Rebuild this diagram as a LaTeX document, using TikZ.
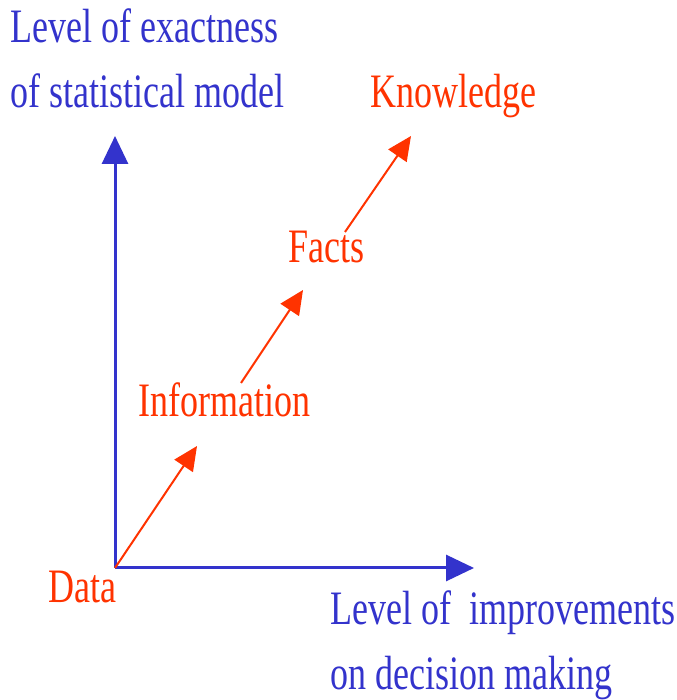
\documentclass[tikz,border=0pt]{standalone}
\usepackage{fontspec}
\setmainfont{Liberation Serif}
\usepackage{xcolor}
\usetikzlibrary{arrows.meta}
\definecolor{axisblue}{HTML}{3333CC}
\definecolor{stepred}{HTML}{FF3300}
\newcommand{\narrow}[1]{\scalebox{0.75}[1]{#1}}
\tikzset{
  axis/.style  = {-{Triangle[length=28pt, width=26pt]}, line width=3pt, draw=axisblue},
  climb/.style = {-{Triangle[length=24pt, width=22pt]}, line width=2pt, draw=stepred},
  lbl/.style   = {font=\fontsize{48}{65}\selectfont, text=#1, inner sep=0pt, align=left},
}
\begin{document}
\begin{tikzpicture}[x=1pt, y=1pt]
  \path[use as bounding box, fill=white] (0,0) rectangle (676,700);

  % axes
  \coordinate (o) at (115,132);
  \coordinate (ytip) at (115,564);
  \coordinate (xtip) at (474,132);
  \draw[axis] (o) -- (ytip);
  \draw[axis] (o) -- (xtip);

  % axis labels
  \node[lbl=axisblue, anchor=base west] (ylab) at (10,592)
    {\narrow{Level of exactness}\\\narrow{of statistical model}};
  \node[lbl=axisblue, anchor=base west] (xlab) at (330,10)
    {\narrow{Level of\ \ improvements}\\\narrow{on decision making}};

  % steps
  \node[lbl=stepred, anchor=base west] (data)  at (48,97)   {\narrow{Data}};
  \node[lbl=stepred, anchor=base west] (info)  at (138,283) {\narrow{Information}};
  \node[lbl=stepred, anchor=base west] (facts) at (288,437) {\narrow{Facts}};
  \node[lbl=stepred, anchor=base west] (know)  at (370,592) {\narrow{Knowledge}};

  \coordinate (c1) at (197,254);
  \coordinate (s2) at (241,317);
  \coordinate (c2) at (303,410);
  \coordinate (s3) at (345,468);
  \coordinate (c3) at (411,564);
  \draw[climb] (o) -- (c1);
  \draw[climb] (s2) -- (c2);
  \draw[climb] (s3) -- (c3);
\end{tikzpicture}
\end{document}
